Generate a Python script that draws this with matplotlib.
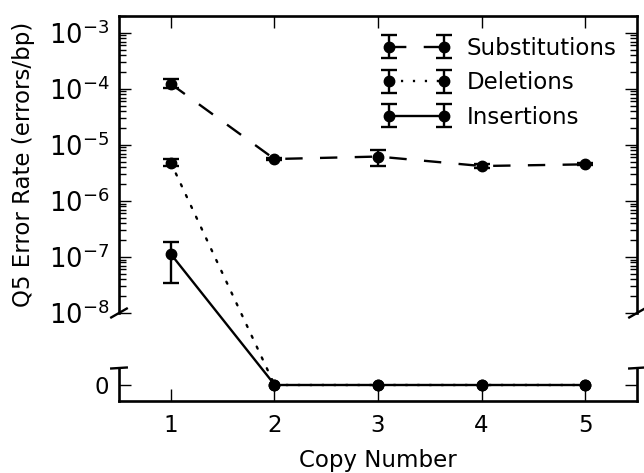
import numpy as np
import matplotlib
matplotlib.use('Agg')
import matplotlib.pyplot as plt
from matplotlib.patches import ConnectionPatch
from matplotlib.ticker import LogLocator, LogFormatterSciNotation, NullFormatter

plt.rcParams['font.family'] = ['DejaVu Sans']
plt.rcParams['lines.scale_dashes'] = False

# ---------------- data ----------------
copy_number = [1, 2, 3, 4, 5]
series_names = ['Substitutions', 'Deletions', 'Insertions']

subs = [1.23e-4, 5.6e-6, 6.2e-6, 4.2e-6, 4.5e-6]
subs_lo = [1.04e-4, 5.3e-6, 4.2e-6, 3.8e-6, 4.3e-6]
subs_hi = [1.51e-4, 5.9e-6, 8.15e-6, 4.6e-6, 4.7e-6]

dels = [4.83e-6, 0, 0, 0, 0]
dels_lo = [4.26e-6, 0, 0, 0, 0]
dels_hi = [5.56e-6, 0, 0, 0, 0]

ins = [1.13e-7, 0, 0, 0, 0]
ins_lo = [3.39e-8, 0, 0, 0, 0]
ins_hi = [1.88e-7, 0, 0, 0, 0]

x_ticks = [1, 2, 3, 4, 5]

# ---------------- style ----------------
LW = 1.7
SPINE_LW = 1.9
styles = {
    'Substitutions': (0, (12.5, 12.5)),
    'Deletions': (0, (1.6, 7)),
    'Insertions': '-',
}

fig = plt.figure(figsize=(6.44, 4.73), dpi=100)
W, H = 644, 473
left, right = 119, 637
ax1 = fig.add_axes([left / W, 1 - 313 / H, (right - left) / W, (313 - 16) / H])
ax2 = fig.add_axes([left / W, 1 - 401 / H, (right - left) / W, (401 - 368) / H], sharex=ax1)

data = [
    ('Substitutions', subs, subs_lo, subs_hi),
    ('Deletions', dels, dels_lo, dels_hi),
    ('Insertions', ins, ins_lo, ins_hi),
]

x = np.array(copy_number, dtype=float)
handles = []
for name, vals, lo, hi in data:
    v = np.array(vals, dtype=float)
    lo = np.array(lo, dtype=float)
    hi = np.array(hi, dtype=float)
    nz = v > 0
    z = ~nz
    # upper (log) panel
    cont = ax1.errorbar(x[nz], v[nz], yerr=[v[nz] - lo[nz], hi[nz] - v[nz]],
                        color='k', marker='o', markersize=7.5, mec='k', mfc='k',
                        linestyle=styles[name], linewidth=LW, elinewidth=LW,
                        capsize=6, capthick=LW, label=name)
    handles.append(cont)
    # lower (zero) panel
    if z.any():
        ax2.plot(x[z], v[z], color='k', marker='o', markersize=7.5, mec='k', mfc='k',
                 linestyle=styles[name], linewidth=LW, clip_on=False)
    # connectors across the break
    for i in range(len(v) - 1):
        if nz[i] and z[i + 1]:
            con = ConnectionPatch(xyA=(x[i], v[i]), coordsA='data', axesA=ax1,
                                  xyB=(x[i + 1], v[i + 1]), coordsB='data', axesB=ax2,
                                  color='k', linewidth=LW, linestyle=styles[name])
            fig.add_artist(con)

# ---------------- axes formatting ----------------
ax1.set_yscale('log')
ax1.set_ylim(1e-8, 2e-3)
ax1.set_xlim(0.5, 5.5)
ax1.yaxis.set_major_locator(LogLocator(base=10, numticks=20))
ax1.yaxis.set_minor_locator(LogLocator(base=10, subs=np.arange(2, 10), numticks=20))
ax1.yaxis.set_major_formatter(LogFormatterSciNotation())
ax1.yaxis.set_minor_formatter(NullFormatter())
ax1.spines['bottom'].set_visible(False)
ax1.tick_params(axis='x', which='both', bottom=False, top=True, labelbottom=False,
                labeltop=False, direction='in', length=8.5, width=1)
ax1.tick_params(axis='y', which='major', left=True, right=True, direction='in',
                length=8.5, width=1, labelsize=18.5, pad=7)
ax1.tick_params(axis='y', which='minor', left=True, right=True, direction='in',
                length=5, width=1)
ax1.set_xticks(x_ticks)

ax2.set_ylim(-1, 1)
ax2.set_yticks([0])
ax2.set_xticks(x_ticks)
ax2.set_xticklabels([str(t) for t in x_ticks])
ax2.spines['top'].set_visible(False)
ax2.tick_params(axis='x', which='both', bottom=True, top=False, direction='in',
                length=8.5, width=1, labelsize=16.5, pad=9)
ax2.tick_params(axis='y', which='both', left=True, right=True, direction='in',
                length=8.5, width=1, labelsize=16.5, pad=7)
ax2.minorticks_off()

for ax in (ax1, ax2):
    for s in ax.spines.values():
        s.set_linewidth(SPINE_LW)

# break marks
d = 0.015
kw = dict(transform=ax1.transAxes, color='k', clip_on=False, linewidth=LW)
ax1.plot((-d, +d), (-d, +d), **kw)
ax1.plot((1 - d, 1 + d), (-d, +d), **kw)
kw.update(transform=ax2.transAxes)
ax2.plot((-d, +d), (1 - d, 1 + d), **kw)
ax2.plot((1 - d, 1 + d), (1 - d, 1 + d), **kw)

ax1.set_ylabel('Q5 Error Rate (errors/bp)', fontsize=16.5)
ax1.yaxis.set_label_coords(-0.162, 0.5)
ax2.set_xlabel('Copy Number', fontsize=16.5, labelpad=9)

ax1.legend(handles=handles, labels=series_names, loc='upper right', frameon=False,
           fontsize=16.5, numpoints=2, handlelength=3.0, handletextpad=0.7,
           labelspacing=0.5, borderaxespad=0.5)

fig.savefig('out.png', dpi=100)
